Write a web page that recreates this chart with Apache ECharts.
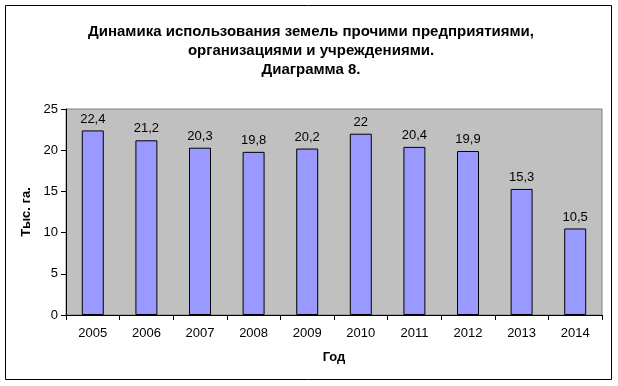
<!DOCTYPE html>
<html><head><meta charset="utf-8">
<script src="https://cdn.jsdelivr.net/npm/echarts@6/dist/echarts.min.js"></script>
<style>html,body{margin:0;padding:0;background:#fff}#c{width:618px;height:386px}</style>
</head><body><div id="c"></div>
<script>
var years = ['2005','2006','2007','2008','2009','2010','2011','2012','2013','2014'];
var values = [22.4, 21.2, 20.3, 19.8, 20.2, 22, 20.4, 19.9, 15.3, 10.5];
var yTicks = [0, 5, 10, 15, 20, 25];
var titleText = 'Динамика использования земель прочими предприятиями,\nорганизациями и учреждениями.\nДиаграмма 8.';
var ff = '"Liberation Sans", Arial, sans-serif';
var chart = echarts.init(document.getElementById('c'));
chart.setOption({
  backgroundColor: '#fff',
  animation: false,
  graphic: [{type:'rect', shape:{x:5.5,y:5.5,width:606,height:374}, style:{fill:'none',stroke:'#000',lineWidth:1}, z:-1}],
  title: {text: titleText, left: 306, top: 17, textAlign: 'center',
    textStyle: {fontFamily: ff, fontSize: 15, fontWeight: 'bold', color: '#000', lineHeight: 19}},
  grid: {left: 66, right: 16, top: 109, bottom: 71, show: true, backgroundColor: '#C0C0C0', borderColor: '#808080', borderWidth: 1},
  xAxis: {type: 'category', data: years,
    name: 'Год', nameLocation: 'middle', nameGap: 36,
    nameTextStyle: {fontFamily: ff, fontSize: 13, fontWeight: 'bold', color: '#000'},
    axisLine: {lineStyle: {color: '#000'}},
    axisTick: {show: true, alignWithLabel: false, length: 5, lineStyle: {color: '#000'}},
    axisLabel: {fontFamily: ff, fontSize: 13, color: '#000', margin: 12}},
  yAxis: {type: 'value', min: 0, max: 25, interval: 5,
    name: 'Тыс. га.', nameLocation: 'middle', nameGap: 30, nameRotate: 90,
    nameTextStyle: {fontFamily: ff, fontSize: 13, fontWeight: 'bold', color: '#000'},
    axisLine: {show: true, lineStyle: {color: '#000'}},
    axisTick: {show: true, length: 5, lineStyle: {color: '#000'}},
    axisLabel: {fontFamily: ff, fontSize: 13, color: '#000', margin: 8,
      formatter: function(v){ return yTicks.indexOf(v) >= 0 ? String(v) : ''; }},
    splitLine: {show: false}},
  series: [{type: 'bar', data: values, barWidth: '41%',
    itemStyle: {color: '#9999FF', borderColor: '#000', borderWidth: 1},
    label: {show: true, position: 'top', distance: 5, fontFamily: ff, fontSize: 13, color: '#000',
      formatter: function(p){ return String(p.value).replace('.', ','); }}}]
});
</script></body></html>
